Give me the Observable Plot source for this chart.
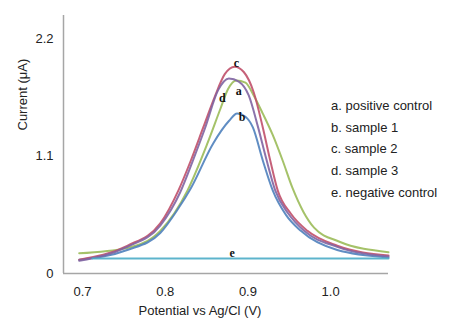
<!DOCTYPE html>
<html><head><meta charset="utf-8">
<script src="https://cdn.jsdelivr.net/npm/d3@7"></script>
<script src="https://cdn.jsdelivr.net/npm/@observablehq/plot@0.6"></script>
<style>
body{margin:0;background:#fff;font-family:"Liberation Sans",Arial,sans-serif;}
#wrap{position:relative;width:461px;height:323px;}
#legend{position:absolute;left:331px;top:95px;font-size:13px;line-height:21.7px;color:#222;}
</style></head>
<body><div id="wrap"><div id="legend"></div></div>
<script>
// series a: positive control (green)
const aX = [0.696, 0.754, 0.794, 0.827, 0.851, 0.867, 0.876, 0.886, 0.897, 0.907, 0.918, 0.930, 0.942, 0.954, 0.967, 0.98, 1.01, 1.07];
const aY = [0.19, 0.24, 0.40, 0.78, 1.22, 1.55, 1.73, 1.81, 1.79, 1.67, 1.50, 1.30, 1.06, 0.80, 0.58, 0.43, 0.30, 0.20];
// series b: sample 1 (blue)
const bX = [0.696, 0.754, 0.794, 0.815, 0.831, 0.858, 0.877, 0.887, 0.897, 0.906, 0.918, 0.930, 0.946, 0.964, 1.008, 1.07];
const bY = [0.13, 0.22, 0.38, 0.60, 0.80, 1.22, 1.43, 1.50, 1.47, 1.37, 1.06, 0.78, 0.55, 0.40, 0.22, 0.15];
// series c: sample 2 (red)
const cX = [0.696, 0.754, 0.794, 0.816, 0.831, 0.846, 0.860, 0.872, 0.884, 0.895, 0.907, 0.918, 0.927, 0.936, 0.952, 0.972, 1.008, 1.07];
const cY = [0.13, 0.26, 0.47, 0.78, 1.06, 1.37, 1.66, 1.87, 1.94, 1.89, 1.70, 1.37, 1.06, 0.78, 0.56, 0.40, 0.26, 0.17];
// series d: sample 3 (purple)
const dX = [0.696, 0.754, 0.794, 0.818, 0.833, 0.848, 0.864, 0.877, 0.889, 0.901, 0.912, 0.922, 0.933, 0.949, 0.968, 1.008, 1.07];
const dY = [0.12, 0.25, 0.45, 0.76, 1.05, 1.36, 1.72, 1.83, 1.80, 1.67, 1.38, 1.08, 0.78, 0.56, 0.40, 0.25, 0.16];
// series e: negative control (aqua)
const eX = [0.712, 0.80, 0.90, 1.00, 1.07];
const eY = [0.14, 0.14, 0.14, 0.14, 0.14];

const seriesKeys = ["a", "b", "c", "d", "e"];
const seriesNames = ["a. positive control", "b. sample 1", "c. sample 2", "d. sample 3", "e. negative control"];
const seriesColors = ["#9bbb59", "#4f81bd", "#c0506a", "#8064a2", "#4bacc6"];

// curve letter labels
const labelKeys = ["c", "a", "d", "b", "e"];
const labelX = [0.886, 0.889, 0.869, 0.893, 0.881];
const labelY = [1.97, 1.71, 1.645, 1.47, 0.19];

const yTicks = [0, 1.1, 2.2];
const xTicks = [0.7, 0.8, 0.9, 1.0];
const xTitle = "Potential vs Ag/Cl (V)";
const yTitle = "Current (\u03bcA)";

const xs = [aX, bX, cX, dX, eX], ys = [aY, bY, cY, dY, eY];
const rows = [];
seriesKeys.forEach((k, i) => xs[i].forEach((x, j) => rows.push({k, x, y: ys[i][j]})));
const labels = labelKeys.map((k, i) => ({k, x: labelX[i], y: labelY[i]}));

const plot = Plot.plot({
  width: 461, height: 323,
  marginLeft: 63, marginRight: 73, marginTop: 15, marginBottom: 50,
  style: {fontFamily: "'Liberation Sans', Arial, sans-serif", fontSize: "13px", color: "#222", background: "#fff"},
  x: {domain: [0.677, 1.07]},
  y: {domain: [0, 2.42]},
  color: {domain: seriesKeys, range: seriesColors},
  marks: [
    Plot.ruleY([0], {stroke: "#a6a6a6", strokeWidth: 1.5}),
    Plot.ruleX([0.677], {stroke: "#a6a6a6", strokeWidth: 1.5}),
    Plot.axisY(yTicks, {tickSize: 0, tickPadding: 10, label: null, fontSize: 13, fill: "#222",
      tickFormat: d => d === 0 ? "0" : d.toFixed(1)}),
    Plot.axisX(xTicks, {tickSize: 0, tickPadding: 13, label: null, fontSize: 13, fill: "#222",
      tickFormat: d => d.toFixed(1)}),
    Plot.line(rows, {x: "x", y: "y", z: "k", stroke: "k", strokeWidth: 2, curve: "monotone-x", strokeOpacity: 0.9}),
    Plot.text(labels, {x: "x", y: "y", text: "k", fontFamily: "'Liberation Serif', 'Times New Roman', serif",
      fontWeight: "bold", fontSize: 12, fill: "#111"}),
    Plot.text([xTitle], {frameAnchor: "bottom", dx: -26, dy: 41, fontSize: 13, fill: "#222"}),
    Plot.text([yTitle], {frameAnchor: "left", rotate: -90, dx: -41, dy: -14, fontSize: 13, fill: "#222"})
  ]
});
document.getElementById("wrap").prepend(plot);
const leg = document.getElementById("legend");
seriesNames.forEach(n => { const d = document.createElement("div"); d.textContent = n; leg.appendChild(d); });
</script>
</body></html>
